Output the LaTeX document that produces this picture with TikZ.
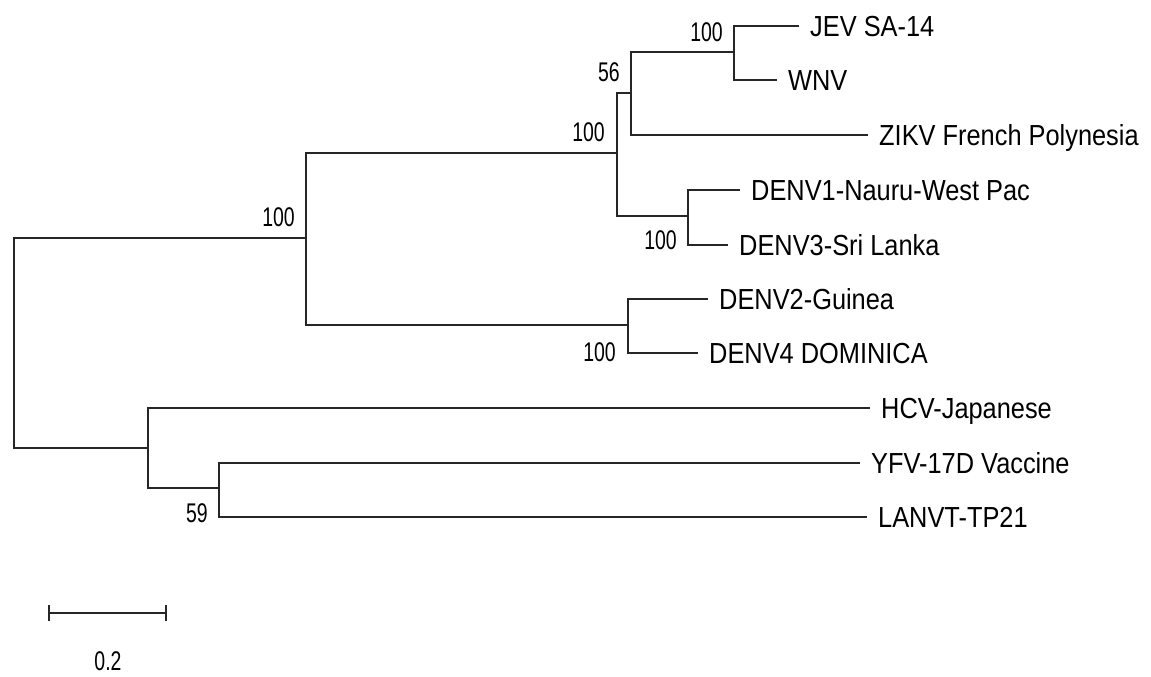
\documentclass[tikz,border=0pt]{standalone}
\usepackage{fontspec}
\setmainfont{Liberation Sans}
\newfontfamily\leaffont[FakeStretch=0.875]{Liberation Sans}
\newfontfamily\numfont[FakeStretch=0.72]{Liberation Sans}
\begin{document}
\begin{tikzpicture}[x=1pt,y=-1pt,
  branch/.style={line width=1.4pt, draw=black!85},
  leaf/.style={anchor=west, inner xsep=11pt, inner ysep=0pt, font=\leaffont\fontsize{29pt}{29pt}\selectfont, text height=20.8pt, text depth=0pt},
  support/.style={anchor=east, inner sep=0pt, font=\numfont\fontsize{27pt}{27pt}\selectfont, text height=19.3pt, text depth=0pt}]
\useasboundingbox (0,0) rectangle (1151,677);
% internal nodes
\coordinate (root) at (14,343);
\coordinate (A) at (306,238);
\coordinate (B) at (148,448);
\coordinate (C) at (617,153);
\coordinate (D) at (628,325);
\coordinate (E) at (631,93);
\coordinate (F) at (688,216);
\coordinate (G) at (734,52);
\coordinate (H) at (219,488);
% leaves
\node[leaf] (jev) at (799,26) {JEV SA-14};
\node[leaf] (wnv) at (777,80) {WNV};
\node[leaf] (zikv) at (868,135) {ZIKV French Polynesia};
\node[leaf] (denv1) at (740,190) {DENV1-Nauru-West Pac};
\node[leaf] (denv3) at (728,245) {DENV3-Sri Lanka};
\node[leaf] (denv2) at (708,299) {DENV2-Guinea};
\node[leaf] (denv4) at (698,353) {DENV4 DOMINICA};
\node[leaf] (hcv) at (870,408) {HCV-Japanese};
\node[leaf] (yfv) at (860,463) {YFV-17D Vaccine};
\node[leaf] (lanvt) at (867,517) {LANVT-TP21};
% branches
\draw[branch] (root) |- (A);
\draw[branch] (root) |- (B);
\draw[branch] (A) |- (C);
\draw[branch] (A) |- (D);
\draw[branch] (C) |- (E);
\draw[branch] (C) |- (F);
\draw[branch] (E) |- (G);
\draw[branch] (E) |- (zikv);
\draw[branch] (G) |- (jev);
\draw[branch] (G) |- (wnv);
\draw[branch] (F) |- (denv1);
\draw[branch] (F) |- (denv3);
\draw[branch] (D) |- (denv2);
\draw[branch] (D) |- (denv4);
\draw[branch] (B) |- (hcv);
\draw[branch] (B) |- (H);
\draw[branch] (H) |- (yfv);
\draw[branch] (H) |- (lanvt);
% support values
\node[support] (sA) at (295,217) {100};
\node[support] (sC) at (605,132) {100};
\node[support] (sE) at (620,72) {56};
\node[support] (sG) at (723,32) {100};
\node[support] (sF) at (677,240) {100};
\node[support] (sD) at (616,352) {100};
\node[support] (sH) at (208,513) {59};
% scale bar
\coordinate (sb1) at (49,613);
\coordinate (sb2) at (166,613);
\draw[branch] (sb1) -- (sb2);
\draw[branch] ([yshift=8pt]sb1) -- ([yshift=-8pt]sb1);
\draw[branch] ([yshift=8pt]sb2) -- ([yshift=-8pt]sb2);
\node[support, anchor=center] (sbl) at (108,661) {0.2};
\end{tikzpicture}
\end{document}
